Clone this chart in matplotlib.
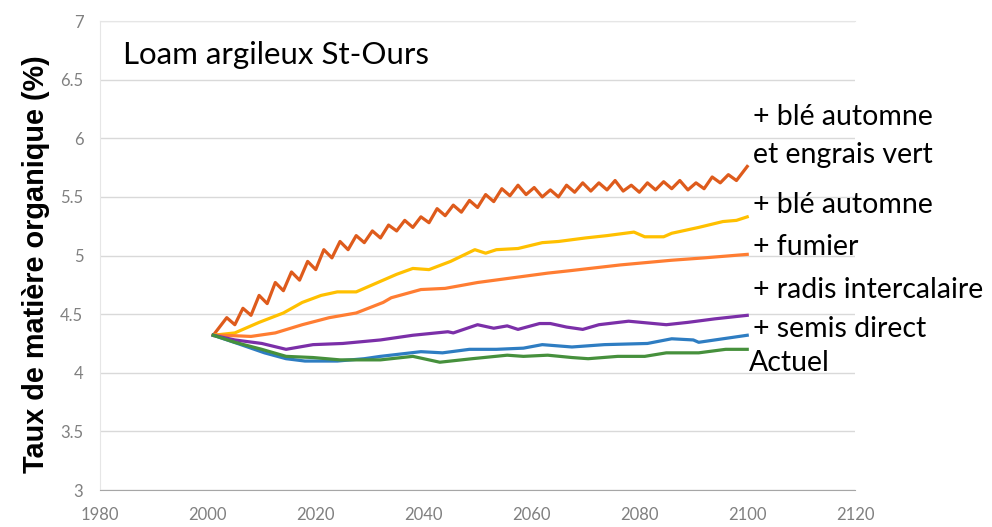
import matplotlib
matplotlib.use("Agg")
import matplotlib.pyplot as plt

# + blé automne et engrais vert (zigzag, peaks / troughs)
yr_engrais = [2001, 2003.5, 2005, 2006.5, 2008, 2009.5, 2011, 2012.5, 2014, 2015.5,
              2017, 2018.5, 2020, 2021.5, 2023, 2024.5, 2026, 2027.5, 2029, 2030.5,
              2032, 2033.5, 2035, 2036.5, 2038, 2039.5, 2041, 2042.5, 2044, 2045.5,
              2047, 2048.5, 2050, 2051.5, 2053, 2054.5, 2056, 2057.5, 2059, 2060.5,
              2062, 2063.5, 2065, 2066.5, 2068, 2069.5, 2071, 2072.5, 2074, 2075.5,
              2077, 2078.5, 2080, 2081.5, 2083, 2084.5, 2086, 2087.5, 2089, 2090.5,
              2092, 2093.5, 2095, 2096.5, 2098, 2100]
val_engrais = [4.32, 4.47, 4.41, 4.55, 4.49, 4.66, 4.59, 4.77, 4.70, 4.86,
               4.79, 4.95, 4.88, 5.05, 4.98, 5.12, 5.05, 5.17, 5.11, 5.21,
               5.15, 5.26, 5.21, 5.30, 5.24, 5.33, 5.28, 5.40, 5.34, 5.43,
               5.37, 5.47, 5.41, 5.52, 5.46, 5.57, 5.51, 5.60, 5.52, 5.58,
               5.50, 5.56, 5.50, 5.60, 5.54, 5.62, 5.55, 5.62, 5.56, 5.64,
               5.55, 5.60, 5.54, 5.62, 5.56, 5.63, 5.57, 5.64, 5.56, 5.62,
               5.57, 5.67, 5.62, 5.69, 5.64, 5.76]

# + blé automne
yr_ble = [2001, 2005, 2009.5, 2014, 2017.5, 2021, 2024, 2027.5, 2030.5, 2032,
          2035, 2038, 2041, 2045, 2049.5, 2051.5, 2053.5, 2057.5, 2062, 2065,
          2070, 2074, 2079, 2081, 2084.5, 2086, 2091, 2095.5, 2098, 2100]
val_ble = [4.32, 4.34, 4.43, 4.51, 4.60, 4.66, 4.69, 4.69, 4.75, 4.78,
           4.84, 4.89, 4.88, 4.95, 5.05, 5.02, 5.05, 5.06, 5.11, 5.12,
           5.15, 5.17, 5.20, 5.16, 5.16, 5.19, 5.24, 5.29, 5.30, 5.33]

# + fumier
yr_fumier = [2001, 2003, 2008, 2012.5, 2017.5, 2022.5, 2027.5, 2032.5, 2034, 2039.5,
             2044, 2050, 2056.5, 2063, 2067, 2076.5, 2086, 2092, 2100]
val_fumier = [4.32, 4.32, 4.31, 4.34, 4.41, 4.47, 4.51, 4.60, 4.64, 4.71,
              4.72, 4.77, 4.81, 4.85, 4.87, 4.92, 4.96, 4.98, 5.01]

# + radis intercalaire
yr_radis = [2001, 2005, 2010, 2014.5, 2019.5, 2025, 2032, 2035, 2038, 2044.5,
            2045.5, 2050, 2053, 2055.5, 2057.5, 2061.5, 2063.5, 2066.5, 2069.5, 2072.5,
            2078, 2085, 2089, 2094, 2100]
val_radis = [4.32, 4.28, 4.25, 4.20, 4.24, 4.25, 4.28, 4.30, 4.32, 4.35,
             4.34, 4.41, 4.38, 4.40, 4.37, 4.42, 4.42, 4.39, 4.37, 4.41,
             4.44, 4.41, 4.43, 4.46, 4.49]

# + semis direct
yr_semis = [2001, 2005.5, 2010.5, 2014.5, 2018, 2024, 2029, 2032, 2039.5, 2043.5,
            2048.5, 2053.5, 2058.5, 2062, 2067.5, 2073.5, 2081.5, 2086, 2090, 2091,
            2094, 2100]
val_semis = [4.32, 4.25, 4.17, 4.12, 4.10, 4.10, 4.12, 4.14, 4.18, 4.17,
             4.20, 4.20, 4.21, 4.24, 4.22, 4.24, 4.25, 4.29, 4.28, 4.26,
             4.28, 4.32]

# Actuel
yr_actuel = [2001, 2005, 2010, 2014.5, 2019.5, 2024.5, 2031, 2032, 2038, 2043,
             2049, 2055.5, 2058.5, 2063, 2067.5, 2070.5, 2076, 2081, 2085, 2091,
             2096, 2100]
val_actuel = [4.32, 4.26, 4.20, 4.14, 4.13, 4.11, 4.11, 4.11, 4.14, 4.09,
              4.12, 4.15, 4.14, 4.15, 4.13, 4.12, 4.14, 4.14, 4.17, 4.17,
              4.20, 4.20]

series = [
    (yr_engrais, val_engrais, "#DE5B1C"),
    (yr_ble, val_ble, "#FFC000"),
    (yr_fumier, val_fumier, "#FF7D32"),
    (yr_radis, val_radis, "#7B2FA8"),
    (yr_semis, val_semis, "#2E7DC2"),
    (yr_actuel, val_actuel, "#46903C"),
]

labels = ["+ blé automne", "et engrais vert", "+ blé automne", "+ fumier",
          "+ radis intercalaire", "+ semis direct", "Actuel"]
label_y = [6.18, 5.86, 5.43, 5.07, 4.71, 4.37, 4.08]
label_x = [2101, 2101, 2101, 2101, 2101, 2101, 2100.3]

x_ticks = [1980, 2000, 2020, 2040, 2060, 2080, 2100, 2120]
y_ticks = [3, 3.5, 4, 4.5, 5, 5.5, 6, 6.5, 7]
y_ticklabels = ["3", "3.5", "4", "4.5", "5", "5.5", "6", "6.5", "7"]

fig = plt.figure(figsize=(9.92, 5.27), dpi=100)
ax = fig.add_axes([0.1008, 0.0702, 0.7612, 0.8898])

for yrs, vals, col in series:
    ax.plot(yrs, vals, color=col, lw=2.3, solid_joinstyle="round")

ax.set_xlim(1980, 2120)
ax.set_ylim(3, 7)
ax.set_xticks(x_ticks)
ax.set_yticks(y_ticks)
ax.set_yticklabels(y_ticklabels)
ax.grid(axis="y", color="#D9D9D9", lw=1)
ax.set_axisbelow(True)
ax.tick_params(length=0, colors="#808080", labelsize=12)
ax.tick_params(axis="x", pad=12)
ax.tick_params(axis="y", pad=12)
for lab in ax.get_xticklabels() + ax.get_yticklabels():
    lab.set_family("Lato")

for side in ["left", "top", "right"]:
    ax.spines[side].set_color("#E6E6E6")
ax.spines["right"].set_visible(False)
ax.spines["bottom"].set_color("#A6A6A6")

ax.set_ylabel("Taux de matière organique (%)", fontsize=20.8, fontweight="bold",
              family="Liberation Sans")
ax.yaxis.set_label_coords(-0.066, 0.482)

ax.text(1984.3, 6.71, "Loam argileux St-Ours", fontsize=22.5, family="Lato",
        va="center", ha="left")
for txt, lx, ly in zip(labels, label_x, label_y):
    ax.text(lx, ly, txt, fontsize=20.5, family="Lato", va="center", ha="left",
            clip_on=False)

plt.savefig("out.png", dpi=100)
